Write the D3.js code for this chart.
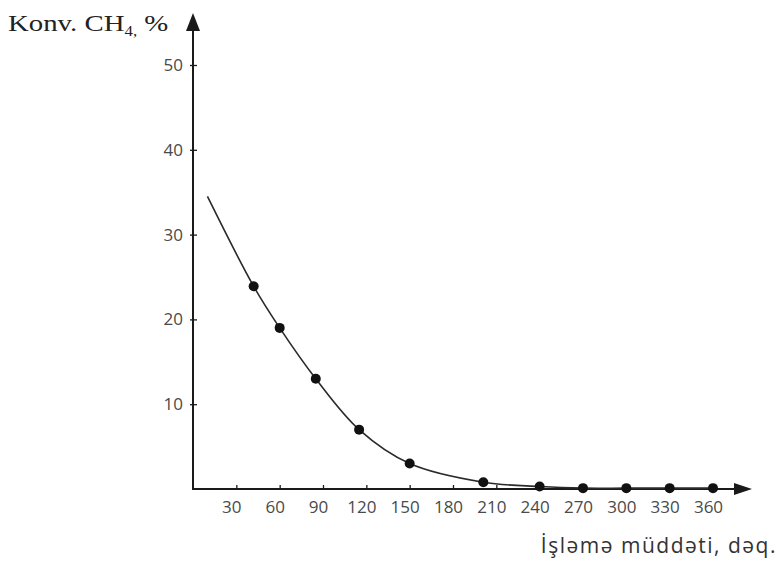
<!DOCTYPE html>
<html>
<head>
<meta charset="utf-8">
<script src="https://cdn.jsdelivr.net/npm/d3@7"></script>
<style>
  body { margin: 0; background: #fff; }
  .tickTxt { font-family: "Open Sans", sans-serif; font-size: 17px; fill: #4a4a4a; }
</style>
</head>
<body>
<div id="chart"></div>
<script>
// data
var xTickValues = [30, 60, 90, 120, 150, 180, 210, 240, 270, 300, 330, 360];
var yTickValues = [10, 20, 30, 40, 50];
var timeMin = [42, 60, 85, 115, 150, 201, 240, 270, 300, 330, 360];
var convPct = [23.9, 19.0, 13.0, 7.0, 3.0, 0.8, 0.3, 0.1, 0.1, 0.1, 0.1];
// fitted curve (starts a bit before the first point)
var fitTime = [10, 42, 60, 85, 115, 150, 201, 240, 270, 300, 330, 360];
var fitConv = [34.5, 23.9, 19.0, 13.0, 7.0, 3.0, 0.8, 0.3, 0.1, 0.1, 0.1, 0.1];

var yAxisLabel = "Konv. CH";
var xAxisLabel = "İşləmə müddəti, dəq.";

(function () {
  'use strict'
  var W = 781, H = 568;
  var svg = d3.select("#chart").append("svg")
    .attr("width", W).attr("height", H);

  var x = d3.scaleLinear().domain([0, 360]).range([193, 713]);
  var y = d3.scaleLinear().domain([0, 50]).range([489, 65]);

  var x0 = x(0), y0 = y(0);
  var ink = "#1a1a1a";

  // x axis
  var xAxisG = svg.append("g")
    .attr("transform", "translate(0," + y0 + ")")
    .call(d3.axisBottom(x).tickValues(xTickValues).tickSizeInner(-4).tickSizeOuter(0).tickPadding(12));
  xAxisG.select(".domain").remove();
  xAxisG.selectAll(".tick line").attr("stroke", ink).attr("stroke-width", 1.3);
  xAxisG.selectAll(".tick text").attr("class", "tickTxt").attr("dx", -5)
    .attr("font-family", null).attr("font-size", null).attr("fill", null);

  // y axis
  var yAxisG = svg.append("g")
    .attr("transform", "translate(" + x0 + ",0)")
    .call(d3.axisLeft(y).tickValues(yTickValues).tickSizeInner(3).tickSizeOuter(0).tickPadding(7));
  yAxisG.select(".domain").remove();
  yAxisG.selectAll(".tick line").attr("x1", -3).attr("x2", 4).attr("stroke", ink).attr("stroke-width", 1.3);
  yAxisG.selectAll(".tick text").attr("class", "tickTxt")
    .attr("font-family", null).attr("font-size", null).attr("fill", null);

  // axis lines with arrow heads
  var xEnd = x.range()[1] + 39;
  var yEnd = y.range()[1] - 52;
  svg.append("line").attr("x1", x0).attr("y1", y0).attr("x2", xEnd - 10).attr("y2", y0)
    .attr("stroke", ink).attr("stroke-width", 2);
  svg.append("line").attr("x1", x0).attr("y1", y0 + 1).attr("x2", x0).attr("y2", yEnd + 10)
    .attr("stroke", ink).attr("stroke-width", 2);
  svg.append("path")
    .attr("d", "M" + xEnd + "," + y0 + "L" + (xEnd - 18) + "," + (y0 - 6) + "L" + (xEnd - 18) + "," + (y0 + 6) + "Z")
    .attr("fill", ink);
  svg.append("path")
    .attr("d", "M" + x0 + "," + yEnd + "L" + (x0 - 7) + "," + (yEnd + 18) + "L" + (x0 + 7) + "," + (yEnd + 18) + "Z")
    .attr("fill", ink);

  // fitted curve
  var fitData = fitTime.map(function (t, i) { return [t, fitConv[i]]; });
  var line = d3.line()
    .x(function (d) { return x(d[0]); })
    .y(function (d) { return y(d[1]); })
    .curve(d3.curveCatmullRom.alpha(0.5));
  svg.append("path").datum(fitData)
    .attr("d", line)
    .attr("fill", "none").attr("stroke", "#2a2a2a").attr("stroke-width", 1.6);

  // measured points
  svg.append("g").selectAll("circle")
    .data(timeMin.map(function (t, i) { return [t, convPct[i]]; }))
    .enter().append("circle")
    .attr("cx", function (d) { return x(d[0]); })
    .attr("cy", function (d) { return y(d[1]); })
    .attr("r", 5)
    .attr("fill", "#111");

  // axis titles
  var yt = svg.append("text")
    .attr("transform", "translate(8,31) scale(1.2,1)")
    .attr("font-family", "'Liberation Serif', 'Times New Roman', serif")
    .attr("font-size", 24).attr("fill", "#222");
  yt.append("tspan").text(yAxisLabel);
  yt.append("tspan").attr("font-size", 14).attr("dy", 5).text("4,");
  yt.append("tspan").attr("dy", -5).text(" %");

  svg.append("text")
    .attr("x", 777).attr("y", 553)
    .attr("text-anchor", "end")
    .attr("font-family", "'Open Sans', sans-serif")
    .attr("font-size", 21).attr("letter-spacing", 1.5).attr("fill", "#333")
    .text(xAxisLabel);
})()
</script>
</body>
</html>
